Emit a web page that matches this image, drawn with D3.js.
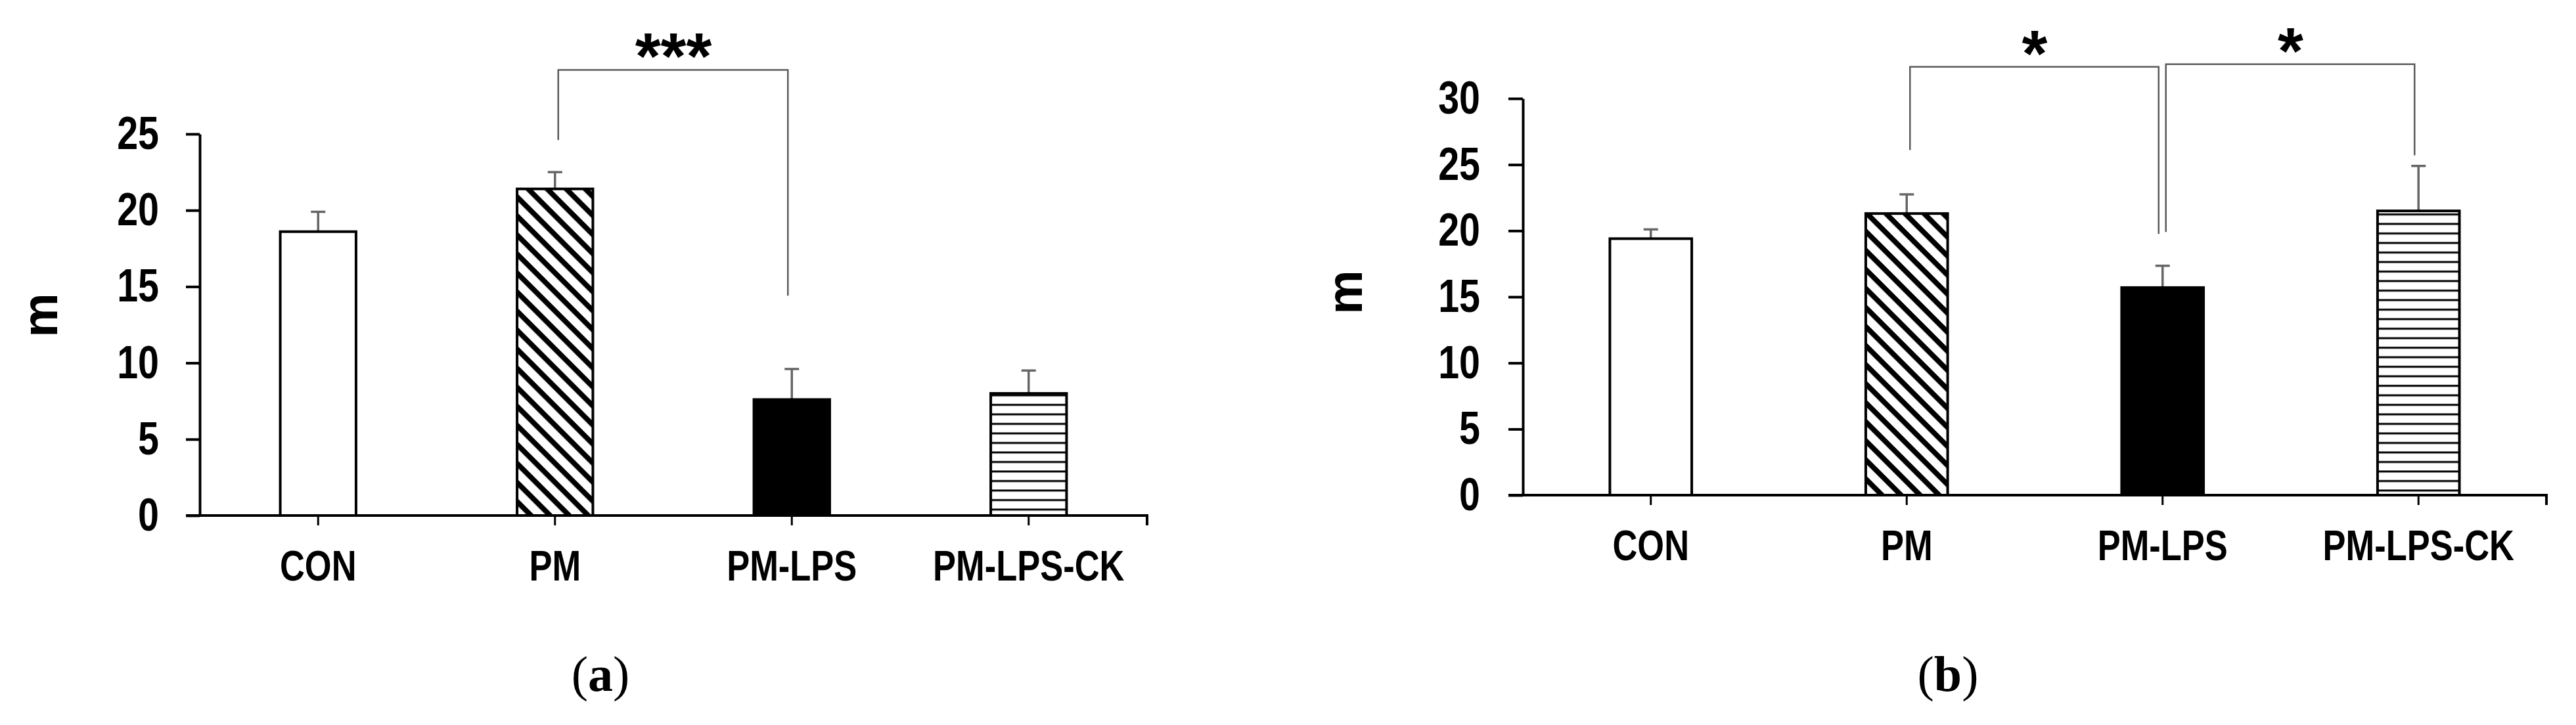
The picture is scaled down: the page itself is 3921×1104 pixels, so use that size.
<!DOCTYPE html>
<html>
<head>
<meta charset="utf-8">
<script src="https://cdn.jsdelivr.net/npm/d3@7"></script>
<style>
  body { margin: 0; background: #fff; }
  svg { display: block; }
</style>
</head>
<body>
<svg id="chart"></svg>
<script>
// groups on the x axis
const categories = ['CON', 'PM', 'PM-LPS', 'PM-LPS-CK'];

// panel (a)
const meansA = [18.6, 21.4, 7.6, 8.0];
const errorsA = [1.3, 1.1, 2.0, 1.5];
const ticksA = [0, 5, 10, 15, 20, 25];
const sigA = [
    { from: 'PM', to: 'PM-LPS', label: '***', top: 29.2, fromEnd: 24.6, toEnd: 14.4 }
];

// panel (b)
const meansB = [19.4, 21.3, 15.7, 21.5];
const errorsB = [0.7, 1.45, 1.65, 3.4];
const ticksB = [0, 5, 10, 15, 20, 25, 30];
const sigB = [
    { from: 'PM', to: 'PM-LPS', label: '*', top: 32.4, fromEnd: 26.1, toEnd: 19.75 },
    { from: 'PM-LPS', to: 'PM-LPS-CK', label: '*', top: 32.6, fromEnd: 19.9, toEnd: 25.7 }
];

const yTitle = 'm';

var W = 3921, H = 1104;
var NARROW = 0.82;   // squeeze to look like a narrow face
const svg = d3.select('#chart').attr('width', W).attr('height', H);

// fill patterns
const defs = svg.append('defs');
defs.append('pattern')
    .attr('id', 'hatch')
    .attr('patternUnits', 'userSpaceOnUse')
    .attr('width', 20.5).attr('height', 20.5)
    .attr('patternTransform', 'rotate(45)')
    .call(p => {
        p.append('rect').attr('width', 20.5).attr('height', 20.5).attr('fill', '#fff');
        p.append('rect').attr('y', 0).attr('width', 20.5).attr('height', 8).attr('fill', '#000');
    });
defs.append('pattern')
    .attr('id', 'stripes')
    .attr('patternUnits', 'userSpaceOnUse')
    .attr('width', 10).attr('height', 14.5)
    .call(p => {
        p.append('rect').attr('width', 10).attr('height', 14.5).attr('fill', '#fff');
        p.append('rect').attr('y', 6).attr('width', 10).attr('height', 3).attr('fill', '#000');
    });

const fillFor = { 'CON': '#fff', 'PM': 'url(#hatch)', 'PM-LPS': '#000', 'PM-LPS-CK': 'url(#stripes)' };

function squeeze(sel) {
    sel.attr('font-family', '"Liberation Sans", Arial, sans-serif')
        .attr('font-weight', 'bold')
        .attr('fill', '#000')
        .each(function() {
            var x0 = +this.getAttribute('x') || 0;
            this.setAttribute('x', x0 / NARROW);
            this.setAttribute('transform', `scale(${NARROW},1)`);
        });
}

function drawPanel(cfg) {
    const g = svg.append('g');
    var x = d3.scaleBand().domain(categories).range([cfg.left, cfg.right])
        .paddingInner(0.68).paddingOuter(0.34);
    var step = x.step();
    var cx = d => x(d) + x.bandwidth() / 2;
    var y = d3.scaleLinear().domain([0, d3.max(cfg.ticks)]).range([cfg.bottom, cfg.top]);
    var rows = categories.map((c, i) => ({ cat: c, value: cfg.means[i], err: cfg.errors[i] }));

    // error bars (upper only)
    const eb = g.selectAll('.err').data(rows).enter().append('g').attr('class', 'err')
        .attr('stroke', '#666').attr('stroke-width', 3.5);
    eb.append('line')
        .attr('x1', d => cx(d.cat)).attr('x2', d => cx(d.cat))
        .attr('y1', d => y(d.value)).attr('y2', d => y(d.value + d.err));
    eb.append('line')
        .attr('x1', d => cx(d.cat) - 11).attr('x2', d => cx(d.cat) + 11)
        .attr('y1', d => y(d.value + d.err)).attr('y2', d => y(d.value + d.err));

    // bars
    g.selectAll('.bar').data(rows).enter().append('rect')
        .attr('class', 'bar')
        .attr('x', d => x(d.cat))
        .attr('y', d => y(d.value))
        .attr('width', x.bandwidth())
        .attr('height', d => cfg.bottom - y(d.value))
        .attr('fill', d => fillFor[d.cat])
        .attr('stroke', '#000')
        .attr('stroke-width', 4);

    // y axis
    const ya = g.append('g')
        .attr('transform', `translate(${cfg.left},0)`)
        .call(d3.axisLeft(y).tickValues(cfg.ticks).tickSize(cfg.tickLen).tickPadding(cfg.tickPad).tickSizeOuter(0));
    ya.select('.domain').attr('stroke', '#000').attr('stroke-width', 4);
    ya.selectAll('.tick line').attr('stroke', '#000').attr('stroke-width', 4);
    ya.selectAll('.tick text').attr('font-size', 70).call(squeeze);

    // x axis
    const xa = g.append('g')
        .attr('transform', `translate(0,${cfg.bottom})`)
        .call(d3.axisBottom(x).tickSize(15).tickPadding(39).tickSizeOuter(0));
    xa.select('.domain').remove();
    xa.append('path')
        .attr('d', `M${cfg.left - cfg.tickLen},0H${cfg.left + step * categories.length}V15`)
        .attr('fill', 'none').attr('stroke', '#000').attr('stroke-width', 4);
    xa.selectAll('.tick line').attr('stroke', '#000').attr('stroke-width', 3);
    xa.selectAll('.tick text').attr('font-size', 64).call(squeeze);

    // y title
    g.append('text')
        .attr('transform', `translate(${cfg.titleX},${cfg.titleY}) rotate(-90)`)
        .attr('text-anchor', 'middle')
        .attr('font-family', '"Liberation Sans", Arial, sans-serif')
        .attr('font-weight', 'bold')
        .attr('font-size', 76)
        .text(yTitle);

    // significance brackets
    const br = g.selectAll('.sig').data(cfg.sig).enter().append('g').attr('class', 'sig');
    br.append('path')
        .attr('d', d => {
            var x1 = cx(d.from) + 5, x2 = cx(d.to) - 6;
            return `M${x1},${y(d.fromEnd)}V${y(d.top)}H${x2}V${y(d.toEnd)}`;
        })
        .attr('fill', 'none').attr('stroke', '#5a5a5a').attr('stroke-width', 2.5);
    br.append('text')
        .attr('x', d => (cx(d.from) + cx(d.to)) / 2)
        .attr('y', d => y(d.top) + 14)
        .attr('text-anchor', 'middle')
        .attr('font-family', '"Liberation Sans", Arial, sans-serif')
        .attr('font-weight', 'bold')
        .attr('font-size', 100)
        .text(d => d.label);

    // caption
    const cap = g.append('text')
        .attr('x', cfg.capX).attr('y', 1052)
        .attr('text-anchor', 'middle')
        .attr('font-family', '"Liberation Serif", "Times New Roman", serif')
        .attr('font-size', 76);
    cap.append('tspan').text('(');
    cap.append('tspan').attr('font-weight', 'bold').text(cfg.letter);
    cap.append('tspan').text(')');
}

drawPanel({
    means: meansA, errors: errorsA, ticks: ticksA, sig: sigA, letter: 'a',
    left: 304, right: 1746, top: 204, bottom: 785,
    tickLen: 21, tickPad: 41, titleX: 87, titleY: 480, capX: 914
});
drawPanel({
    means: meansB, errors: errorsB, ticks: ticksB, sig: sigB, letter: 'b',
    left: 2318, right: 3876, top: 150, bottom: 754,
    tickLen: 22, tickPad: 43, titleX: 2073, titleY: 445, capX: 2965
});
</script>
</body>
</html>
